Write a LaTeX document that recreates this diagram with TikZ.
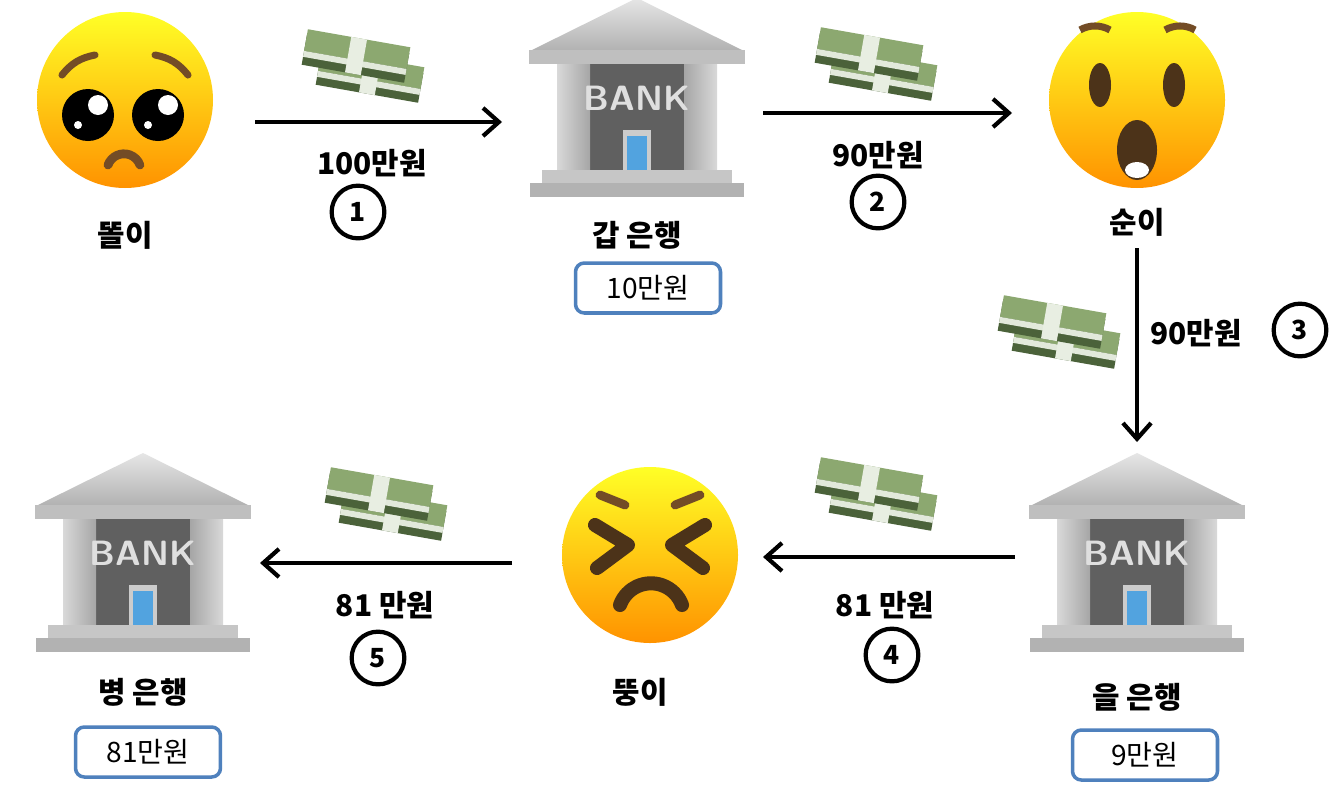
\documentclass[tikz,border=0pt]{standalone}
\usepackage{fontspec}
\setmainfont{Noto Sans CJK KR}
\usetikzlibrary{positioning,arrows.meta}
\definecolor{boxblue}{HTML}{4F81BD}
\definecolor{bill}{HTML}{8CA870}
\definecolor{billdark}{HTML}{5E7A48}
\tikzset{
  lbl/.style={font=\bfseries\fontsize{17}{19}\selectfont},
  num/.style={circle,draw=black,line width=2.4pt,minimum size=30pt,inner sep=0pt,font=\bfseries\fontsize{15}{15}\selectfont},
  amount/.style={draw=boxblue,line width=2pt,rounded corners=5pt,minimum width=2.9cm,minimum height=1cm,font=\fontsize{16}{18}\selectfont},
  flow/.style={-{Straight Barb[length=9pt,width=16pt,line width=2.4pt]},line width=2.4pt},
  bank/.pic={
    \shade[top color=gray!20,bottom color=gray!60] (-105,-50) -- (0,-102) -- (105,-50) -- cycle;
    \fill[gray!50] (-108,-50) rectangle (108,-36);
    \fill[gray!75!black] (-80,-36) rectangle (80,70);
    \shade[left color=gray!30,right color=gray!70] (-80,-36) rectangle (-47,70);
    \shade[left color=gray!70,right color=gray!30] (47,-36) rectangle (80,70);
    \node[text=gray!25,font=\bfseries\sffamily\fontsize{20}{20}\selectfont] at (0,-2) {BANK};
    \fill[gray!40] (-14,30) rectangle (14,70);
    \fill[cyan!70!blue!70] (-10,36) rectangle (10,70);
    \fill[gray!45] (-95,70) rectangle (95,83);
    \fill[gray!60] (-107,83) rectangle (107,97);
  },
  money/.pic={
    \foreach \dx/\dy in {8/16,-6/-4}{
      \begin{scope}[shift={(\dx,\dy)},rotate=-10]
      \fill[billdark!80!black] (-52,-12) rectangle (52,18);
      \fill[bill] (-52,-18) rectangle (52,4);
      \fill[white!75!bill] (-52,4) rectangle (52,10);
      \fill[white!80!bill] (-8,-18) rectangle (8,18);
      \end{scope}
    }
  },
  face/.pic={
    \shade[top color=yellow!85!white,bottom color=orange!85!yellow] (0,0) circle (88);
  },
}
\begin{document}
\begin{tikzpicture}[x=0.02cm,y=-0.02cm]
  \useasboundingbox[fill=white] (0,0) rectangle (1334,788);
  % faces
  \pic at (125,100) {face};
  \fill[black] (88,115) circle (26) (158,115) circle (26);
  \fill[white] (98,105) circle (10) (168,105) circle (10) (78,125) circle (4) (148,125) circle (4);
  \draw[line width=4pt,brown!60!black,line cap=round] (62,75) to[bend left=20] (95,55) (188,75) to[bend right=20] (155,55);
  \draw[line width=5pt,brown!60!black,line cap=round] (108,165) arc (200:340:17);
  \pic at (1137,100) {face};
  \fill[brown!40!black] (1100,85) ellipse (11 and 22) (1174,85) ellipse (11 and 22);
  \fill[brown!40!black] (1137,150) ellipse (20 and 30);
  \fill[white] (1137,170) ellipse (12 and 8);
  \draw[line width=4pt,brown!60!black] (1080,30) arc (240:300:30) (1165,30) arc (240:300:30);
  \pic at (650,555) {face};
  \draw[line width=8pt,brown!40!black,line cap=round,line join=round] (595,525) -- (628,545) -- (597,568) (705,525) -- (672,545) -- (703,568);
  \draw[line width=8pt,brown!40!black,line cap=round] (620,605) arc (200:340:33);
  \draw[line width=5pt,brown!60!black,line cap=round] (600,495) -- (625,505) (700,495) -- (675,505);
  % banks
  \pic at (637,100) {bank};
  \pic at (1137,555) {bank};
  \pic at (143,555) {bank};
  % money
  \pic at (362,60) {money};
  \pic at (875,58) {money};
  \pic at (1058,326) {money};
  \pic at (875,488) {money};
  \pic at (385,498) {money};
  % labels
  \node[lbl] (ttori) at (125,235) {똘이};
  \node[lbl] (suni) at (1137,222) {순이};
  \node[lbl] (ddungi) at (640,692) {뚱이};
  \node[lbl] (gap) at (637,235) {갑 은행};
  \node[lbl] (eul) at (1137,697) {을 은행};
  \node[lbl] (byeong) at (143,692) {병 은행};
  \node[amount] (r1) at (648,288) {10만원};
  \node[amount] (r2) at (1145,755) {9만원};
  \node[amount] (r3) at (148,752) {81만원};
  % arrows
  \coordinate (a1) at (255,122); \coordinate (b1) at (502,122);
  \coordinate (a2) at (763,113); \coordinate (b2) at (1012,113);
  \coordinate (a3) at (1137,248); \coordinate (b3) at (1137,442);
  \coordinate (a4) at (1015,557); \coordinate (b4) at (763,557);
  \coordinate (a5) at (512,563); \coordinate (b5) at (260,563);
  \foreach \i in {1,...,5}{\draw[flow] (a\i) -- (b\i);}
  \node[lbl] (m1) at (372,163) {100만원};
  \node[num] (n1) at (358,212) {1};
  \node[lbl] (m2) at (878,155) {90만원};
  \node[num] (n2) at (878,202) {2};
  \node[lbl] (m3) at (1196,333) {90만원};
  \node[num] (n3) at (1300,330) {3};
  \node[lbl] (m4) at (885,605) {81 만원};
  \node[num] (n4) at (892,655) {4};
  \node[lbl] (m5) at (385,605) {81 만원};
  \node[num] (n5) at (378,658) {5};
\end{tikzpicture}
\end{document}
